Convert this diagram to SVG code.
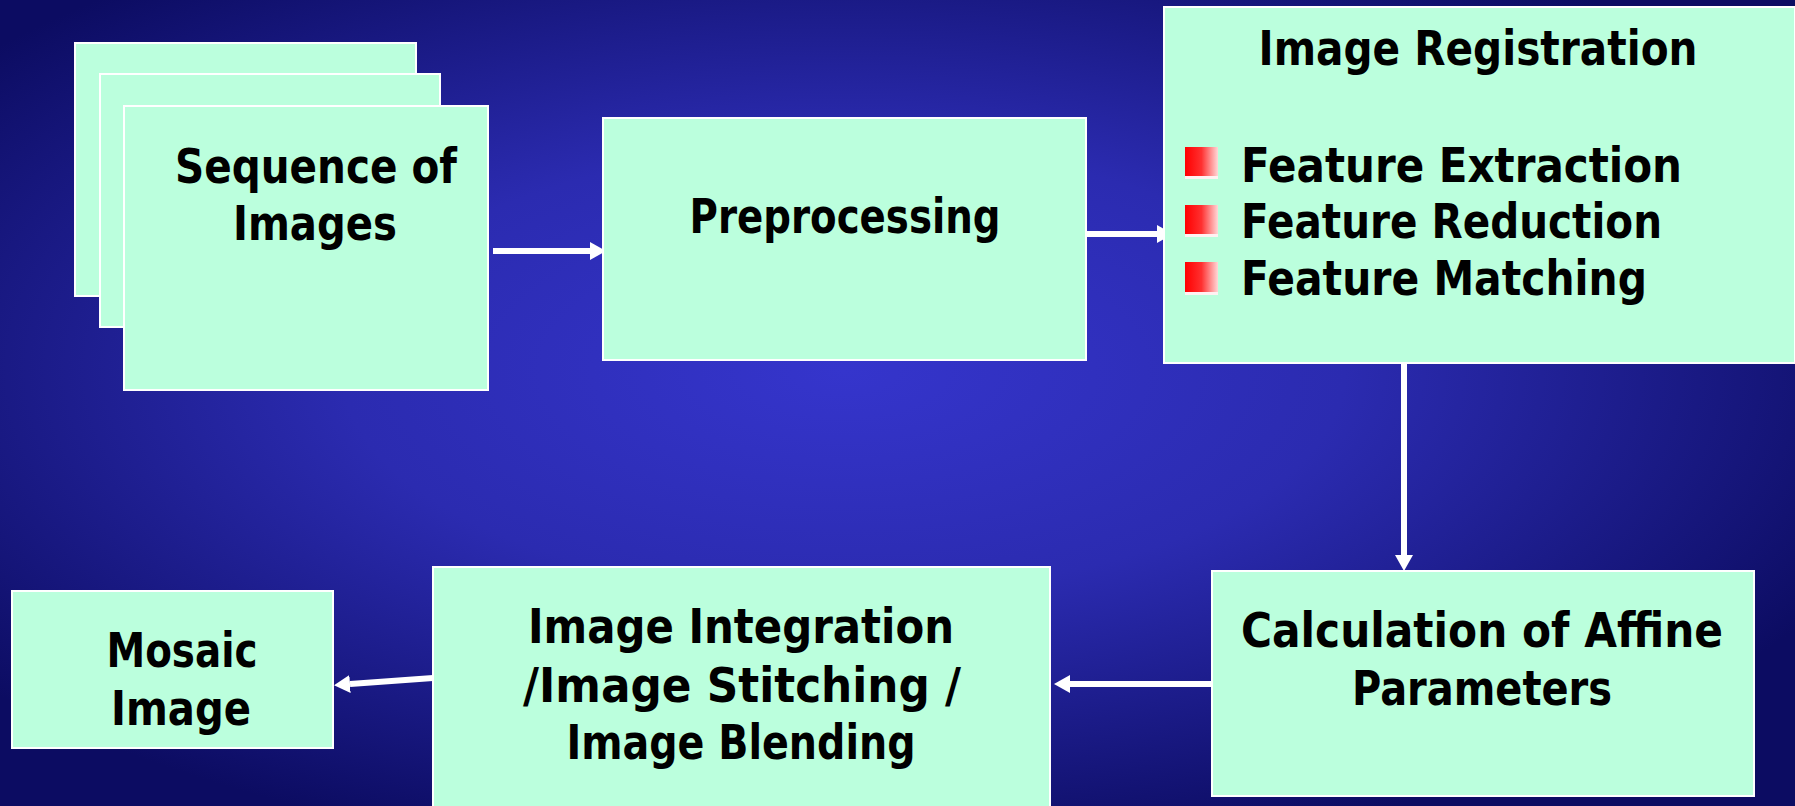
<svg xmlns="http://www.w3.org/2000/svg" width="1795" height="806" viewBox="0 0 1795 806">
  <style>
    .box { fill: #bbffdd; stroke: #ffffff; stroke-width: 2; }
    .lbl { font-family: "Comic Sans MS", "DejaVu Sans", sans-serif; font-weight: bold; font-size: 48px; fill: #000000; }
    .mid { text-anchor: middle; }
    .conn { stroke: #ffffff; stroke-width: 6; fill: none; marker-end: url(#ah); }
  </style>
  <defs>
    <radialGradient id="bg" cx="0.47" cy="0.46" r="0.62" gradientUnits="objectBoundingBox">
      <stop offset="0" stop-color="#3535cc"/>
      <stop offset="0.45" stop-color="#2b2bb0"/>
      <stop offset="1" stop-color="#0c0c62"/>
    </radialGradient>
    <linearGradient id="bul" x1="0" y1="0" x2="1" y2="0">
      <stop offset="0" stop-color="#ff0000"/>
      <stop offset="0.5" stop-color="#ff3030"/>
      <stop offset="1" stop-color="#ffd8d8"/>
    </linearGradient>
    <marker id="ah" viewBox="0 -9 16 18" markerWidth="16" markerHeight="18" refX="0" refY="0" orient="auto" markerUnits="userSpaceOnUse">
      <path d="M0,-9 L16,0 L0,9 Z" fill="#ffffff"/>
    </marker>
  </defs>

  <rect x="0" y="0" width="1795" height="806" fill="url(#bg)"/>

  <g id="connectors">
    <line class="conn" x1="493" y1="251" x2="590" y2="251"/>
    <line class="conn" x1="1086" y1="234" x2="1157" y2="234"/>
    <line class="conn" x1="1404" y1="363" x2="1404" y2="555"/>
    <line class="conn" x1="1211" y1="684" x2="1070" y2="684"/>
    <line class="conn" x1="433" y1="678" x2="350" y2="684"/>
  </g>

  <g id="sequence">
    <rect class="box" x="75" y="43" width="341" height="253"/>
    <rect class="box" x="100" y="74" width="340" height="253"/>
    <rect class="box" x="124" y="106" width="364" height="284"/>
    <text class="lbl mid" x="316" y="183" textLength="282" lengthAdjust="spacingAndGlyphs">Sequence of</text>
    <text class="lbl mid" x="315" y="240" textLength="164" lengthAdjust="spacingAndGlyphs">Images</text>
  </g>

  <g id="preprocessing">
    <rect class="box" x="603" y="118" width="483" height="242"/>
    <text class="lbl mid" x="845" y="233" textLength="311" lengthAdjust="spacingAndGlyphs">Preprocessing</text>
  </g>

  <g id="registration">
    <rect class="box" x="1164" y="7" width="631" height="356"/>
    <text class="lbl mid" x="1478" y="65" textLength="439" lengthAdjust="spacingAndGlyphs">Image Registration</text>
    <rect x="1185" y="147" width="33" height="29" fill="url(#bul)"/>
    <rect x="1185" y="176" width="33" height="3" fill="#fff2f2"/>
    <rect x="1185" y="205" width="33" height="29" fill="url(#bul)"/>
    <rect x="1185" y="234" width="33" height="3" fill="#fff2f2"/>
    <rect x="1185" y="262" width="33" height="30" fill="url(#bul)"/>
    <rect x="1185" y="292" width="33" height="3" fill="#fff2f2"/>
    <text class="lbl" x="1241" y="182" textLength="441" lengthAdjust="spacingAndGlyphs">Feature Extraction</text>
    <text class="lbl" x="1241" y="238" textLength="421" lengthAdjust="spacingAndGlyphs">Feature Reduction</text>
    <text class="lbl" x="1241" y="295" textLength="406" lengthAdjust="spacingAndGlyphs">Feature Matching</text>
  </g>

  <g id="affine">
    <rect class="box" x="1212" y="571" width="542" height="225"/>
    <text class="lbl mid" x="1482" y="647" textLength="482" lengthAdjust="spacingAndGlyphs">Calculation of Affine</text>
    <text class="lbl mid" x="1482" y="705" textLength="260" lengthAdjust="spacingAndGlyphs">Parameters</text>
  </g>

  <g id="integration">
    <rect class="box" x="433" y="567" width="617" height="250"/>
    <text class="lbl mid" x="741" y="643" textLength="426" lengthAdjust="spacingAndGlyphs">Image Integration</text>
    <text class="lbl mid" x="742" y="702" textLength="438" lengthAdjust="spacingAndGlyphs">/Image Stitching /</text>
    <text class="lbl mid" x="741" y="759" textLength="349" lengthAdjust="spacingAndGlyphs">Image Blending</text>
  </g>

  <g id="mosaic">
    <rect class="box" x="12" y="591" width="321" height="157"/>
    <text class="lbl mid" x="182" y="667" textLength="151" lengthAdjust="spacingAndGlyphs">Mosaic</text>
    <text class="lbl mid" x="181" y="725" textLength="140" lengthAdjust="spacingAndGlyphs">Image</text>
  </g>
</svg>
